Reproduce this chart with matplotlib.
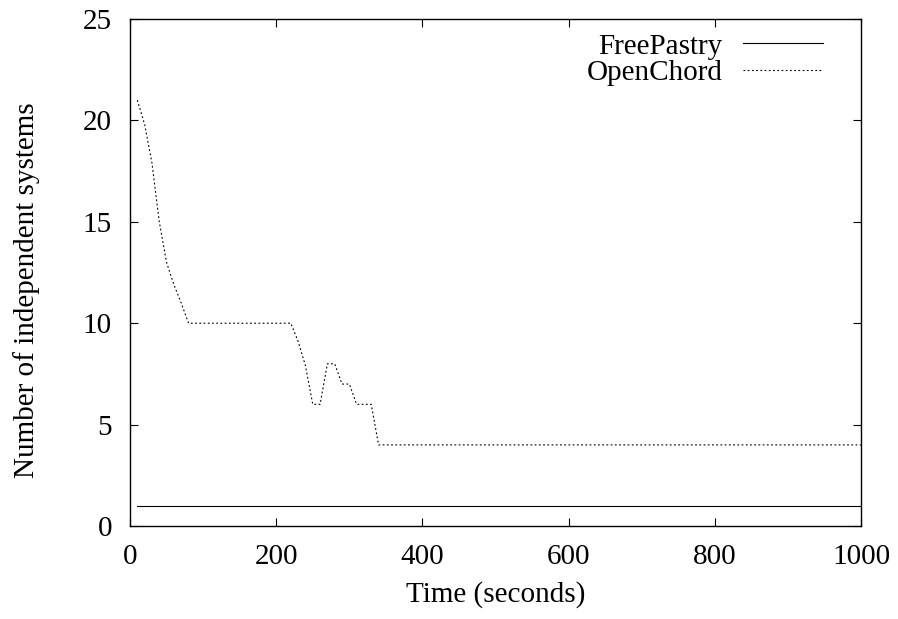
import matplotlib
matplotlib.use("Agg")
import matplotlib.pyplot as plt

# data
freepastry_time = [10, 1000]
freepastry_systems = [1, 1]

openchord_time = [10, 20, 30, 40, 50, 60, 70, 80, 220, 230, 240, 250, 260,
                  270, 280, 290, 300, 310, 320, 330, 340, 1000]
openchord_systems = [21, 19.8, 17.9, 15, 13, 11.9, 11, 10, 10, 9.1, 7.9, 6, 6,
                     8, 8, 7, 7, 6, 6, 6, 4, 4]

x_ticks = [0, 200, 400, 600, 800, 1000]
y_ticks = [0, 5, 10, 15, 20, 25]

plt.rcParams['font.family'] = ['Liberation Serif', 'DejaVu Serif']
plt.rcParams['font.size'] = 21

fig = plt.figure(figsize=(8.98, 6.19), dpi=100)
ax = fig.add_axes([0.1448, 0.1502, 0.9588 - 0.1448, 0.9693 - 0.1502])

ax.plot(freepastry_time, freepastry_systems, color='black', lw=0.8,
        label='FreePastry')
ax.plot(openchord_time, openchord_systems, color='black', lw=0.8,
        linestyle=(0, (1.6, 2.2)), label='OpenChord')

ax.set_xlim(0, 1000)
ax.set_ylim(0, 25)
ax.set_xticks(x_ticks)
ax.set_yticks(y_ticks)
ax.tick_params(direction='in', length=6, width=0.8, top=True, right=True,
               labelsize=21)
ax.tick_params(axis='y', pad=13)
ax.tick_params(axis='x', pad=13)
for s in ax.spines.values():
    s.set_linewidth(1.0)

ax.set_xlabel('Time (seconds)', labelpad=8)
ax.set_ylabel('Number of independent systems')
ax.yaxis.set_label_coords(-0.123, 0.465)

ax.legend(loc='upper right', bbox_to_anchor=(0.948, 0.972), frameon=False,
          markerfirst=False, handlelength=2.75, handletextpad=0.7,
          labelspacing=0.0, borderpad=0, borderaxespad=0, fontsize=21)

fig.savefig('out.png', dpi=100)
